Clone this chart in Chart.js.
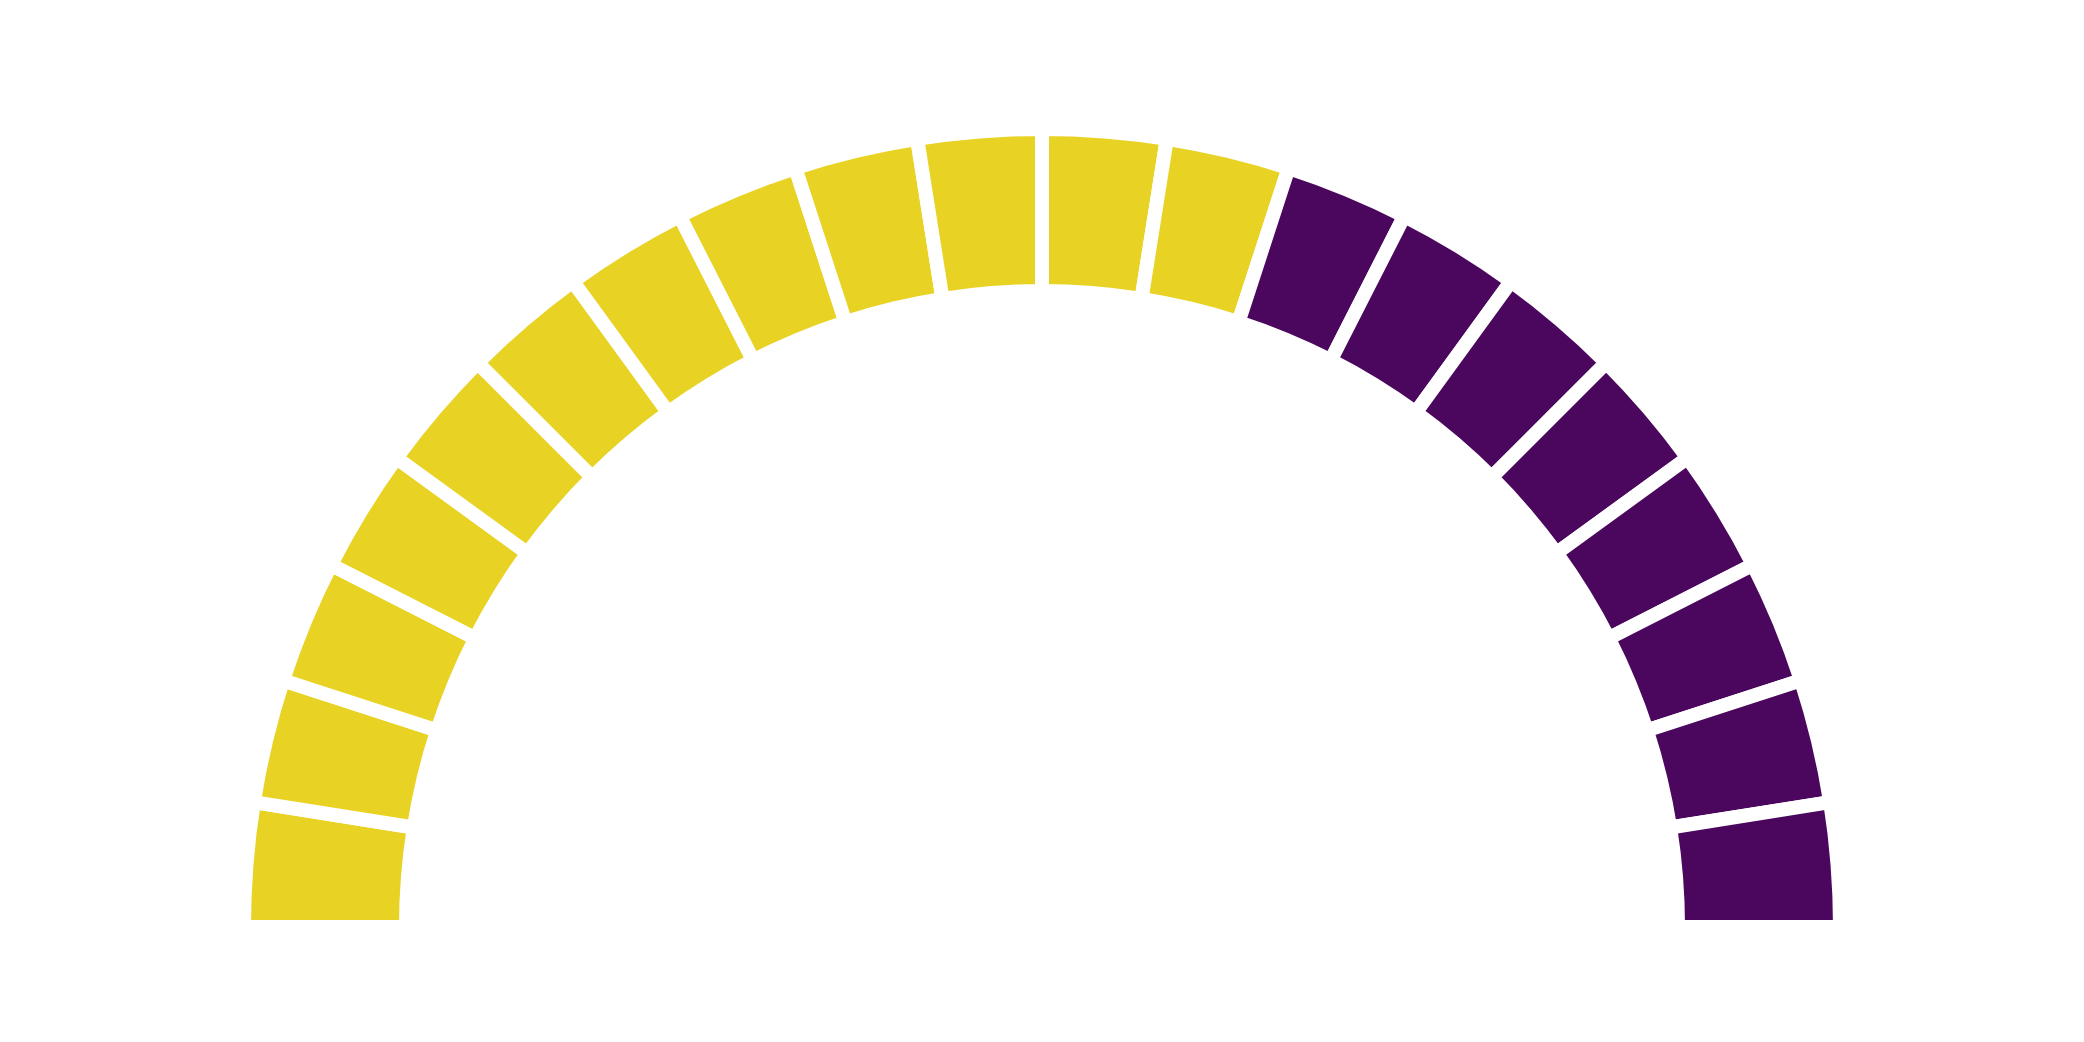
<!DOCTYPE html>
<html>
<head>
<meta charset="utf-8">
<script src="https://cdn.jsdelivr.net/npm/chart.js@4"></script>
<style>
  html, body { margin: 0; padding: 0; background: #ffffff; }
  #wrap { width: 2084px; height: 1042px; }
</style>
</head>
<body>
<div id="wrap"><canvas id="c" width="2084" height="1042"></canvas></div>
<script>
// Seats from left to right (each seat is one equal wedge)
const seatLabels = ['1','2','3','4','5','6','7','8','9','10','11','12','13','14','15','16','17','18','19','20'];
const seatValues = [1,1,1,1,1,1,1,1,1,1,1,1,1,1,1,1,1,1,1,1];
const seatParty  = ['A','A','A','A','A','A','A','A','A','A','A','A','B','B','B','B','B','B','B','B'];
const partyColors = { A: '#E8D324', B: '#4B075E' };

const ctx = document.getElementById('c').getContext('2d');
new Chart(ctx, {
  type: 'doughnut',
  data: {
    labels: seatLabels,
    datasets: [{
      data: seatValues,
      backgroundColor: seatParty.map(p => partyColors[p]),
      borderColor: '#ffffff',
      borderWidth: 14,
      hoverOffset: 0
    }]
  },
  options: {
    responsive: false,
    animation: false,
    rotation: -90,
    circumference: 180,
    radius: 798,
    cutout: '79.7%',
    layout: { padding: { top: 14, bottom: 0, left: 0, right: 0 } },
    plugins: {
      legend: { display: false },
      tooltip: { enabled: false },
      title: { display: false }
    }
  }
});
</script>
</body>
</html>
